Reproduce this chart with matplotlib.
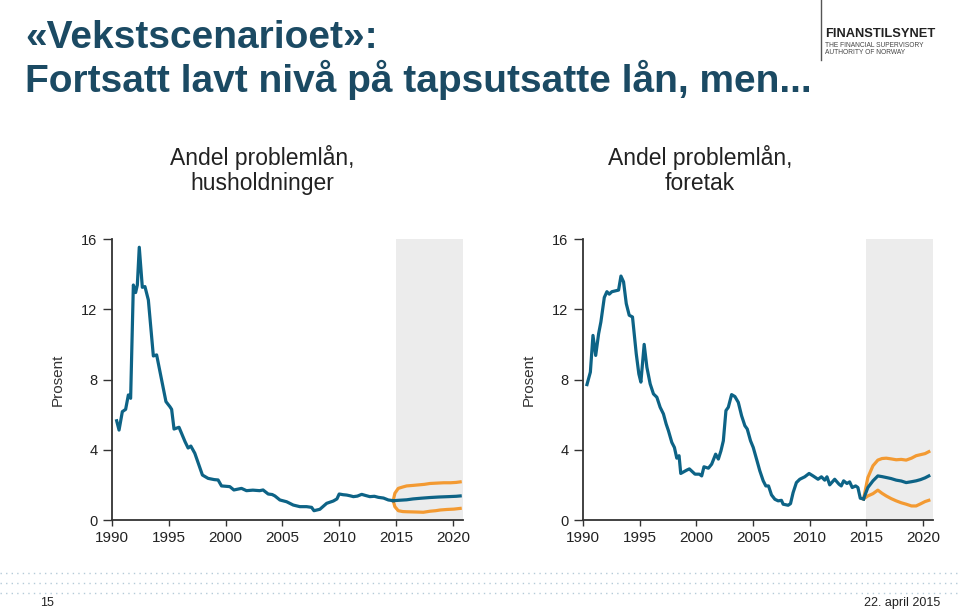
import matplotlib
matplotlib.use("Agg")
import matplotlib.pyplot as plt
from matplotlib.lines import Line2D

plt.rcParams['font.family'] = ['Liberation Sans', 'DejaVu Sans']

# ---------------- DATA ----------------
# Households: historical
hh_years = [1990.41, 1990.62, 1990.91, 1991.2, 1991.44, 1991.64, 1991.88, 1992.08, 1992.23, 1992.4,
            1992.67, 1992.9, 1993.2, 1993.64, 1993.93, 1994.37, 1994.75, 1995.1, 1995.25, 1995.46,
            1995.9, 1996.43, 1996.7, 1996.94, 1997.29, 1997.96, 1998.46, 1999.0, 1999.34, 1999.64,
            2000.37, 2000.73, 2001.4, 2001.84, 2002.4, 2003.0, 2003.3, 2003.75, 2004.1, 2004.34,
            2004.78, 2005.37, 2005.96, 2006.54, 2007.13, 2007.57, 2007.78, 2008.3, 2008.9, 2009.48,
            2009.8, 2010.0, 2010.35, 2010.66, 2010.95, 2011.25, 2011.6, 2011.98, 2012.3, 2012.7,
            2013.1, 2013.45, 2013.9, 2014.33, 2014.76]
hh_vals = [5.65, 5.12, 6.17, 6.3, 7.12, 6.93, 13.38, 12.95, 13.38, 15.53,
           13.25, 13.29, 12.53, 9.34, 9.4, 7.97, 6.74, 6.45, 6.3, 5.18,
           5.28, 4.46, 4.1, 4.21, 3.8, 2.56, 2.37, 2.3, 2.28, 1.94,
           1.9, 1.71, 1.8, 1.67, 1.7, 1.67, 1.71, 1.48, 1.45, 1.37,
           1.14, 1.04, 0.85, 0.76, 0.76, 0.72, 0.53, 0.61, 0.95, 1.08,
           1.2, 1.48, 1.44, 1.42, 1.38, 1.33, 1.36, 1.46, 1.4, 1.33,
           1.35, 1.29, 1.25, 1.14, 1.1]
# Households: forecast (base and scenario band)
hh_fc_years = [2014.76, 2015.2, 2015.94, 2016.5, 2017.2, 2018.0, 2018.8, 2019.6, 2020.3, 2020.65]
hh_fc_mid   = [1.1, 1.12, 1.15, 1.2, 1.24, 1.28, 1.31, 1.33, 1.35, 1.37]
hh_up_years = [2014.76, 2014.9, 2015.2, 2015.6, 2015.94, 2016.5, 2017.0, 2017.5, 2018.0, 2018.6, 2019.2, 2019.8, 2020.3, 2020.65]
hh_fc_high  = [1.1, 1.52, 1.8, 1.88, 1.94, 1.97, 2.0, 2.03, 2.08, 2.1, 2.12, 2.12, 2.14, 2.17]
hh_lo_years = [2014.76, 2014.9, 2015.2, 2015.6, 2015.94, 2016.5, 2017.0, 2017.4, 2018.0, 2018.5, 2018.9, 2019.5, 2020.1, 2020.65]
hh_fc_low   = [1.1, 0.76, 0.53, 0.48, 0.47, 0.46, 0.45, 0.44, 0.5, 0.53, 0.57, 0.6, 0.62, 0.66]

# Corporates: historical
co_years = [1990.35, 1990.65, 1990.88, 1991.12, 1991.38, 1991.58, 1991.88, 1992.11, 1992.32, 1992.55,
            1993.14, 1993.35, 1993.58, 1993.82, 1994.08, 1994.37, 1994.7, 1994.93, 1995.11, 1995.4,
            1995.64, 1995.93, 1996.22, 1996.52, 1996.81, 1997.1, 1997.34, 1997.54, 1997.84, 1998.07,
            1998.28, 1998.48, 1998.63, 1999.16, 1999.39, 1999.89, 2000.27, 2000.48, 2000.68, 2001.07,
            2001.36, 2001.71, 2001.95, 2002.18, 2002.39, 2002.62, 2002.83, 2003.12, 2003.41, 2003.71,
            2004.0, 2004.29, 2004.5, 2004.79, 2005.03, 2005.32, 2005.61, 2005.91, 2006.14, 2006.38,
            2006.64, 2006.94, 2007.23, 2007.52, 2007.67, 2008.11, 2008.32, 2008.55, 2008.84, 2009.14,
            2009.58, 2009.96, 2010.31, 2010.75, 2011.05, 2011.34, 2011.54, 2011.78, 2012.22, 2012.6,
            2012.8, 2013.01, 2013.3, 2013.54, 2013.77, 2014.07, 2014.27, 2014.48, 2014.77]
co_vals = [7.71, 8.42, 10.51, 9.37, 10.61, 11.28, 12.67, 13.0, 12.86, 13.0,
           13.09, 13.89, 13.56, 12.32, 11.66, 11.56, 9.47, 8.32, 7.85, 10.0,
           8.7, 7.75, 7.18, 6.99, 6.42, 6.04, 5.47, 5.09, 4.42, 4.13,
           3.52, 3.66, 2.65, 2.84, 2.91, 2.61, 2.61, 2.51, 3.03, 2.95,
           3.18, 3.75, 3.47, 3.94, 4.51, 6.23, 6.42, 7.14, 7.03, 6.7,
           5.94, 5.37, 5.18, 4.51, 4.13, 3.47, 2.8, 2.23, 1.94, 1.94,
           1.43, 1.18, 1.09, 1.12, 0.9, 0.84, 0.93, 1.56, 2.13, 2.32,
           2.46, 2.65, 2.51, 2.32, 2.46, 2.27, 2.46, 2.0, 2.32, 2.04,
           1.94, 2.23, 2.08, 2.17, 1.85, 1.94, 1.85, 1.24, 1.2]
# Corporates: forecast
co_fc_years = [2014.77, 2015.15, 2015.6, 2016.03, 2016.4, 2016.77, 2017.2, 2017.65, 2018.1, 2018.53, 2019.0, 2019.41, 2019.8, 2020.2, 2020.53]
co_fc_mid   = [1.2, 1.85, 2.23, 2.51, 2.47, 2.42, 2.36, 2.27, 2.22, 2.13, 2.18, 2.23, 2.3, 2.4, 2.51]
co_fc_high  = [1.2, 2.42, 3.09, 3.41, 3.5, 3.52, 3.48, 3.43, 3.45, 3.41, 3.52, 3.66, 3.72, 3.78, 3.89]
co_fc_low   = [1.2, 1.37, 1.5, 1.7, 1.52, 1.37, 1.22, 1.09, 0.98, 0.9, 0.8, 0.8, 0.92, 1.05, 1.12]

yticks = [0, 4, 8, 12, 16]
xticks = [1990, 1995, 2000, 2005, 2010, 2015, 2020]
panel_titles = ["Andel problemlån,\nhusholdninger", "Andel problemlån,\nforetak"]
ylabel = "Prosent"
title = "«Vekstscenarioet»:\nFortsatt lavt nivå på tapsutsatte lån, men..."

# ---------------- STYLE ----------------
BLUE = '#0d6386'
ORANGE = '#f39a32'
SHADE = '#ececec'
AXC = '#333333'
TITLEC = '#1b4a63'

W, H = 960, 611
fig = plt.figure(figsize=(9.6, 6.11), dpi=100)

def ax_rect(x0, x1, y_top, y_bot):
    return [x0 / W, 1 - y_bot / H, (x1 - x0) / W, (y_bot - y_top) / H]

ax1 = fig.add_axes(ax_rect(112, 463, 239, 520))
ax2 = fig.add_axes(ax_rect(583, 933, 239, 520))

def style(ax, xmax):
    ax.set_xlim(1990, xmax)
    ax.set_ylim(0, 16)
    ax.axvspan(2015, xmax, color=SHADE, zorder=0, lw=0)
    for s in ['top', 'right']:
        ax.spines[s].set_visible(False)
    for s in ['left', 'bottom']:
        ax.spines[s].set_color(AXC)
        ax.spines[s].set_linewidth(1.3)
    ax.set_yticks(yticks)
    ax.set_xticks(xticks)
    ax.tick_params(axis='y', length=6.5, width=1.0, color=AXC, pad=4, labelsize=10.5, labelcolor='#222222')
    ax.tick_params(axis='x', length=4, width=1.0, color=AXC, pad=4, labelsize=11, labelcolor='#222222')
    ax.set_ylabel(ylabel, fontsize=11, color='#333333', labelpad=12)
    ax.patch.set_alpha(0)

style(ax1, 2020.9)
style(ax2, 2020.9)

lw = 2.3
ax1.plot(hh_years, hh_vals, color=BLUE, lw=lw, solid_joinstyle='round', zorder=3)
ax1.plot(hh_up_years, hh_fc_high, color=ORANGE, lw=lw, zorder=2)
ax1.plot(hh_lo_years, hh_fc_low, color=ORANGE, lw=lw, zorder=2)
ax1.plot(hh_fc_years, hh_fc_mid, color=BLUE, lw=lw, zorder=3)

ax2.plot(co_years, co_vals, color=BLUE, lw=lw, solid_joinstyle='round', zorder=3)
ax2.plot(co_fc_years, co_fc_high, color=ORANGE, lw=lw, zorder=2)
ax2.plot(co_fc_years, co_fc_low, color=ORANGE, lw=lw, zorder=2)
ax2.plot(co_fc_years, co_fc_mid, color=BLUE, lw=lw, zorder=3)

# panel titles
fig.text(262 / W, 1 - 170 / H, panel_titles[0], ha='center', va='center', fontsize=16.5,
         color='#222222', linespacing=1.1)
fig.text(700 / W, 1 - 170 / H, panel_titles[1], ha='center', va='center', fontsize=16.5,
         color='#222222', linespacing=1.1)

# main title
fig.text(25 / W, 1 - 60 / H, title, ha='left', va='center', fontsize=28, fontweight='bold',
         color=TITLEC, linespacing=1.1)

# logo
fig.add_artist(Line2D([821 / W, 821 / W], [1 - 0 / H, 1 - 60 / H], color='#555555', lw=1.0))
fig.text(825 / W, 1 - 34 / H, "FINANSTILSYNET", ha='left', va='center', fontsize=9.3,
         fontweight='bold', color='#222222')
fig.text(825 / W, 1 - 49 / H, "THE FINANCIAL SUPERVISORY\nAUTHORITY OF NORWAY", ha='left',
         va='center', fontsize=4.8, color='#444444', linespacing=1.0)

# footer dotted rows
for yy in [573, 583, 593]:
    fig.add_artist(Line2D([0, 1], [1 - yy / H, 1 - yy / H], color='#b5cbd8', lw=1.0,
                          linestyle=(0, (1, 3))))
narrow = ['Liberation Sans Narrow', 'Liberation Sans', 'DejaVu Sans']
fig.text(40 / W, 1 - 603 / H, "15", ha='left', va='center', fontsize=9, family=narrow, color='#222222')
fig.text(940 / W, 1 - 603 / H, "22. april 2015", ha='right', va='center', fontsize=9, family=narrow,
         color='#222222')

fig.savefig('out.png', dpi=100)
